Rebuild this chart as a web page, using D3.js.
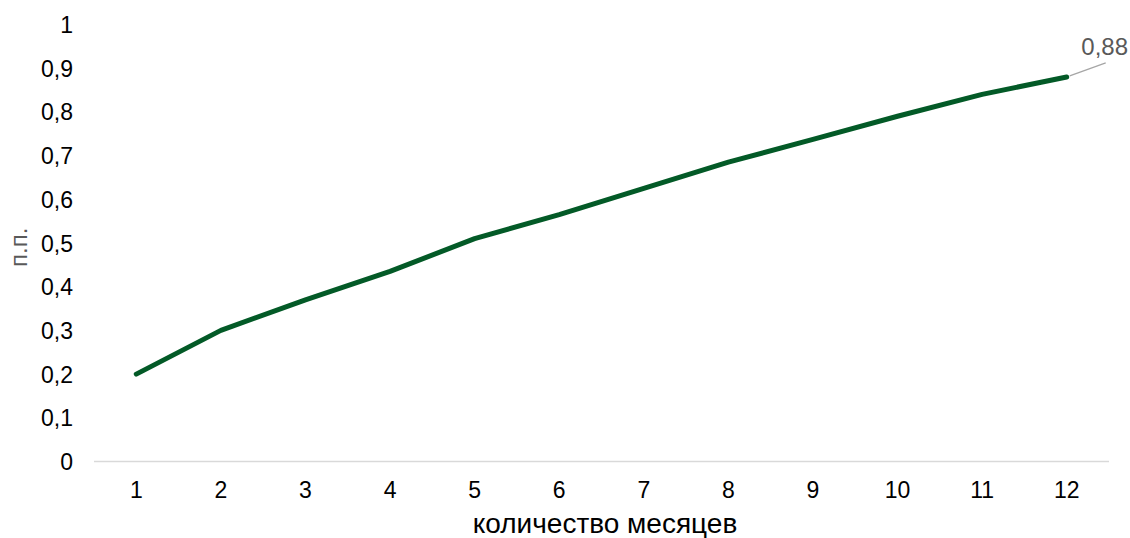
<!DOCTYPE html>
<html>
<head>
<meta charset="utf-8">
<script src="https://cdn.jsdelivr.net/npm/d3@7"></script>
<style>
  html, body { margin: 0; padding: 0; background: #fff; }
  svg { display: block; font-family: "Liberation Sans", Arial, sans-serif; }
</style>
</head>
<body>
<svg id="chart" width="1130" height="538"></svg>
<script>
// Months on the horizontal axis
const months = ["1", "2", "3", "4", "5", "6", "7", "8", "9", "10", "11", "12"];
// Cumulative effect, percentage points
const values = [0.20, 0.30, 0.37, 0.435, 0.51, 0.565, 0.625, 0.685, 0.737, 0.79, 0.84, 0.88];
// Vertical axis ticks
const yTicks = [0, 0.1, 0.2, 0.3, 0.4, 0.5, 0.6, 0.7, 0.8, 0.9, 1];

const svg = d3.select("#chart");
const margin = { left: 94, right: 21, top: 24.5, bottom: 76.5 };
const W = 1130, H = 538;
const FONT = "Liberation Sans, Arial, sans-serif";

const x = d3.scaleBand().domain(months).range([margin.left, W - margin.right]);
const y = d3.scaleLinear().domain([0, 1]).range([H - margin.bottom, margin.top]);

const fmt = v => String(+v.toFixed(2)).replace(".", ",");

// Baseline
svg.append("line")
  .attr("x1", margin.left).attr("x2", W - margin.right)
  .attr("y1", y(0)).attr("y2", y(0))
  .attr("stroke", "#d9d9d9").attr("stroke-width", 1.3);

// Y axis labels
const yAxis = d3.axisLeft(y).tickValues(yTicks).tickFormat(fmt).tickSize(0).tickPadding(0);
svg.append("g")
  .attr("transform", `translate(73,0)`)
  .call(yAxis)
  .call(g => g.select(".domain").remove())
  .call(g => g.attr("font-size", 23).attr("font-family", FONT))
  .call(g => g.selectAll("text").attr("fill", "#000").attr("dy", "0.35em"));

// X axis labels
const xAxis = d3.axisBottom(x).tickSize(0).tickPadding(0);
svg.append("g")
  .attr("transform", `translate(0,${y(0) + 20})`)
  .call(xAxis)
  .call(g => g.select(".domain").remove())
  .call(g => g.attr("font-size", 23).attr("font-family", FONT))
  .call(g => g.selectAll("text").attr("fill", "#000"));

// Axis titles
svg.append("text")
  .attr("x", 605)
  .attr("y", 533)
  .attr("text-anchor", "middle")
  .attr("font-size", 28).attr("fill", "#000")
  .text("количество месяцев");

svg.append("text")
  .attr("transform", `translate(27,${y(0.49)}) rotate(-90)`)
  .attr("text-anchor", "middle")
  .attr("font-size", 24).attr("fill", "#595959")
  .text("п.п.");

// Series line
const line = d3.line()
  .x((d, i) => x(months[i]) + x.bandwidth() / 2)
  .y(d => y(d));

svg.append("path")
  .datum(values)
  .attr("d", line)
  .attr("fill", "none")
  .attr("stroke", "#035a27")
  .attr("stroke-width", 5)
  .attr("stroke-linecap", "round")
  .attr("stroke-linejoin", "round");

// Label on the last point with a leader line
const last = values.length - 1;
const lx = x(months[last]) + x.bandwidth() / 2;
const ly = y(values[last]);
svg.append("line")
  .attr("x1", lx + 3).attr("y1", ly - 1)
  .attr("x2", lx + 39).attr("y2", ly - 14)
  .attr("stroke", "#a6a6a6").attr("stroke-width", 1.3);
svg.append("text")
  .attr("x", lx + 38)
  .attr("y", ly - 22)
  .attr("text-anchor", "middle")
  .attr("font-size", 24).attr("fill", "#595959")
  .text(fmt(values[last]));
</script>
</body>
</html>
